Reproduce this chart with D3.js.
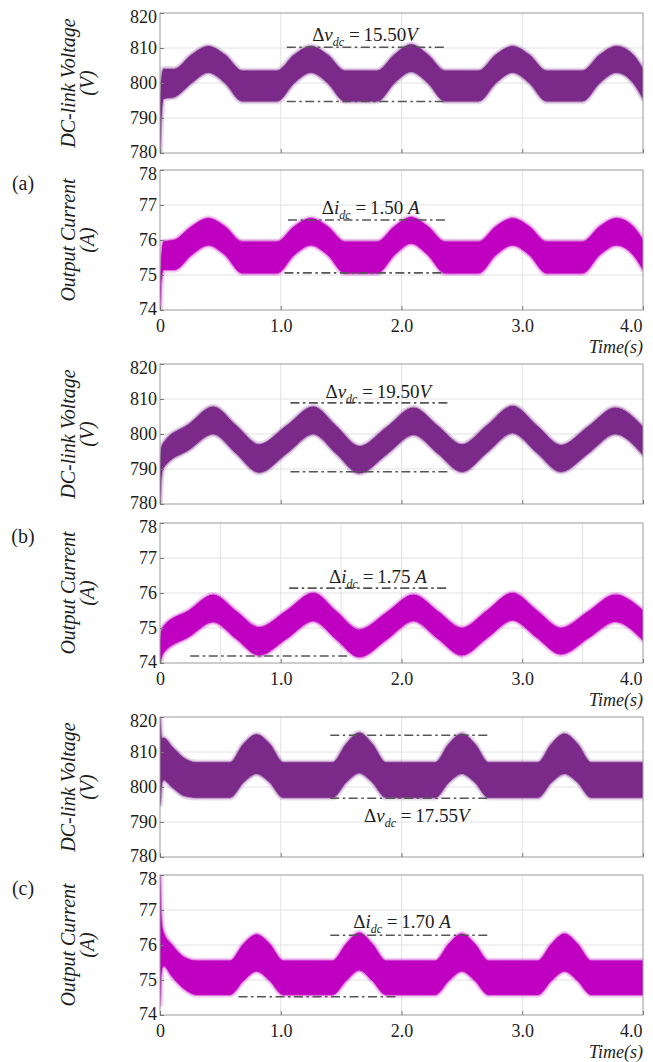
<!DOCTYPE html>
<html><head><meta charset="utf-8">
<script src="https://cdn.jsdelivr.net/npm/d3@7"></script>
<style>
html,body{margin:0;padding:0;background:#fff;}
svg{display:block;}
</style></head>
<body><svg id="chart" width="653" height="1062"></svg>
<script>
// ---------- tick data ----------
const timeTicks = [0, 1, 2, 3, 4];
const timeTickLabels = ["0", "1.0", "2.0", "3.0", "4.0"];
const voltageTicks = [780, 790, 800, 810, 820];
const currentTicks = [74, 75, 76, 77, 78];
const caseLabels = ["(a)", "(b)", "(c)"];

// ---------- case (a): band envelopes (lower / upper edge) ----------
const tA = [0, 0.012, 0.03, 0.12, 0.26, 0.4, 0.54, 0.68, 0.97, 1.11, 1.25, 1.39, 1.53, 1.8, 1.94, 2.08, 2.22, 2.36, 2.64, 2.78, 2.92, 3.06, 3.2, 3.5, 3.64, 3.78, 3.92, 4.0];
const aVoltLo = [780, 791, 795.5, 796, 800, 803, 800, 794.8, 794.8, 800, 803, 800, 794.8, 794.8, 800, 803.2, 800, 794.8, 794.8, 800, 803, 800, 794.8, 794.8, 800, 803, 800, 795.5];
const aVoltHi = [792, 801, 804, 804, 808, 810.5, 808, 803.5, 803.5, 808, 810.5, 808, 803.5, 803.5, 808, 811, 808, 803.5, 803.5, 808, 810.5, 808, 803.5, 803.5, 808, 810.5, 808, 804];
const aCurrLo = [74, 74.9, 75.15, 75.15, 75.57, 75.85, 75.57, 75.05, 75.05, 75.57, 75.85, 75.57, 75.05, 75.05, 75.57, 75.9, 75.57, 75.05, 75.05, 75.57, 75.85, 75.57, 75.05, 75.05, 75.57, 75.85, 75.57, 75.15];
const aCurrHi = [74.6, 75.5, 75.95, 76.0, 76.38, 76.62, 76.38, 75.95, 75.95, 76.38, 76.62, 76.38, 75.95, 75.95, 76.38, 76.65, 76.38, 75.95, 75.95, 76.38, 76.62, 76.38, 75.95, 75.95, 76.38, 76.62, 76.38, 76.0];

// ---------- case (b) ----------
const tB = [0, 0.012, 0.03, 0.24, 0.44, 0.63, 0.82, 1.05, 1.27, 1.46, 1.65, 1.88, 2.1, 2.3, 2.5, 2.71, 2.92, 3.12, 3.32, 3.55, 3.77, 4.0];
const bVoltLo = [780, 788, 790.5, 795.5, 800, 794.5, 789, 794.5, 800, 794.4, 788.8, 794.3, 799.8, 794.5, 789.2, 794.8, 800.3, 794.7, 789.2, 794.6, 800, 794];
const bVoltHi = [791, 796, 797.5, 802.8, 807.8, 802.4, 797, 802.4, 807.8, 802.2, 796.5, 802, 807.5, 802.3, 797, 802.5, 808, 802.4, 796.8, 802.2, 807.5, 802];
const bCurrLo = [74, 74.15, 74.3, 74.75, 75.17, 74.7, 74.22, 74.7, 75.2, 74.68, 74.17, 74.68, 75.2, 74.7, 74.22, 74.72, 75.22, 74.73, 74.25, 74.72, 75.18, 74.65];
const bCurrHi = [74.6, 74.9, 75.05, 75.5, 75.95, 75.48, 75.02, 75.5, 76.0, 75.47, 74.95, 75.45, 75.95, 75.48, 75.0, 75.5, 76.0, 75.5, 75.0, 75.48, 75.95, 75.5];

// ---------- case (c) ----------
const tC = [0, 0.006, 0.015, 0.03, 0.1, 0.2, 0.3, 0.58, 0.69, 0.8, 0.91, 1.02, 1.43, 1.54, 1.65, 1.76, 1.87, 2.28, 2.39, 2.5, 2.61, 2.72, 3.13, 3.24, 3.35, 3.46, 3.57, 4.0];
const cVoltLo = [795, 797, 801, 802, 800, 797.5, 797, 797, 801.3, 803.8, 801.3, 797, 797, 801.3, 804, 801.3, 797, 797, 801.3, 803.8, 801.3, 797, 797, 801.3, 803.8, 801.3, 797, 797];
const cVoltHi = [820, 816.5, 814, 814, 811.5, 808.2, 807, 807, 812.2, 815, 812.2, 807, 807, 812.2, 815.5, 812.2, 807, 807, 812.2, 815.2, 812.2, 807, 807, 812.2, 815.2, 812.2, 807, 807];
const cCurrLo = [74.3, 74.9, 75.3, 75.4, 75.1, 74.75, 74.58, 74.58, 74.98, 75.25, 74.98, 74.58, 74.58, 74.98, 75.28, 74.98, 74.58, 74.58, 74.98, 75.25, 74.98, 74.58, 74.58, 74.98, 75.25, 74.98, 74.58, 74.58];
const cCurrHi = [78, 77.2, 76.6, 76.35, 76.0, 75.65, 75.55, 75.55, 76.02, 76.3, 76.02, 75.55, 75.55, 76.02, 76.35, 76.02, 75.55, 75.55, 76.02, 76.32, 76.02, 75.55, 75.55, 76.02, 76.32, 76.02, 75.55, 75.55];

// ---------- ripple markers: [tStart, tEnd, level] ----------
const dashAV = [[1.05, 2.36, 810.2], [1.05, 2.36, 794.7]];
const dashAI = [[1.06, 2.38, 76.57], [1.03, 2.34, 75.06]];
const dashBV = [[1.08, 2.38, 808.9], [1.08, 2.38, 789.2]];
const dashBI = [[1.07, 2.37, 76.14], [0.25, 1.55, 74.2]];
const dashCV = [[1.41, 2.72, 814.8], [1.41, 2.72, 796.8]];
const dashCI = [[1.41, 2.72, 76.28], [0.65, 1.96, 74.52]];
const rippleValues = ["15.50", "1.50", "19.50", "1.75", "17.55", "1.70"];

// ---------- layout / style ----------
const serif = "'Liberation Serif','Times New Roman',Times,serif";
const X0 = 160, X1 = 643;
const panelTops = [13, 170, 364, 523, 717, 875];
const panelH = 140;
const voltColor = "#7b2a8a", currColor = "#c000c0";
const ink = "#1e1e1e";

const mk = (t, lo, hi) => t.map((tt, j) => ({t: tt, lo: lo[j], hi: hi[j]}));
const panels = [
  {kind: "V", rows: mk(tA, aVoltLo, aVoltHi), dash: dashAV, grid: 1, annoT: 1.26, annoDy: -6},
  {kind: "I", rows: mk(tA, aCurrLo, aCurrHi), dash: dashAI, grid: 1, annoT: 1.34, annoDy: -6, caseIdx: 0},
  {kind: "V", rows: mk(tB, bVoltLo, bVoltHi), dash: dashBV, grid: 1, annoT: 1.37, annoDy: -5},
  {kind: "I", rows: mk(tB, bCurrLo, bCurrHi), dash: dashBI, grid: 0.5, annoT: 1.40, annoDy: -5, caseIdx: 1},
  {kind: "V", rows: mk(tC, cVoltLo, cVoltHi), dash: dashCV, grid: 1, annoT: 1.69, annoDy: 24, annoBelow: true},
  {kind: "I", rows: mk(tC, cCurrLo, cCurrHi), dash: dashCI, grid: 1, annoT: 1.60, annoDy: -7, caseIdx: 2}
];

const svg = d3.select("#chart");
const x = d3.scaleLinear().domain([0, 4]).range([X0, X1]);

panels.forEach((p, i) => {
  const top = panelTops[i], bottom = top + panelH;
  const isV = p.kind === "V";
  const ticks = isV ? voltageTicks : currentTicks;
  const y = d3.scaleLinear().domain([ticks[0], ticks[ticks.length - 1]]).range([bottom, top]);
  const color = isV ? voltColor : currColor;
  const g = svg.append("g");

  svg.append("clipPath").attr("id", "clip" + i)
    .append("rect").attr("x", X0).attr("y", top).attr("width", X1 - X0).attr("height", panelH);

  // grid
  const xg = d3.range(p.grid, 4, p.grid).filter(v => v < 3.99);
  g.selectAll(null).data(xg).join("line")
    .attr("x1", d => x(d)).attr("x2", d => x(d)).attr("y1", top).attr("y2", bottom)
    .attr("stroke", "#e2e2e2").attr("stroke-width", 1);
  g.selectAll(null).data(ticks.slice(1, -1)).join("line")
    .attr("x1", X0).attr("x2", X1).attr("y1", d => y(d)).attr("y2", d => y(d))
    .attr("stroke", "#e2e2e2").attr("stroke-width", 1);

  // signal band (with soft fringe imitating the switching ripple spikes)
  const area = d3.area().x(d => x(d.t)).y0(d => y(d.lo)).y1(d => y(d.hi)).curve(d3.curveMonotoneX);
  const band = g.append("g").attr("clip-path", `url(#clip${i})`);
  band.append("path").datum(p.rows).attr("d", area).attr("fill", color)
    .attr("stroke", color).attr("stroke-opacity", 0.18).attr("stroke-width", 6)
    .attr("stroke-linejoin", "round");
  band.append("path").datum(p.rows).attr("d", area).attr("fill", color)
    .attr("stroke", color).attr("stroke-opacity", 0.45).attr("stroke-width", 2.4)
    .attr("stroke-linejoin", "round");

  // ripple markers
  g.selectAll(null).data(p.dash).join("line")
    .attr("x1", d => x(d[0])).attr("x2", d => x(d[1]))
    .attr("y1", d => y(d[2])).attr("y2", d => y(d[2]))
    .attr("stroke", "#555").attr("stroke-width", 1.6)
    .attr("stroke-dasharray", "9,3.5,2.5,3.5");

  // annotation
  const refLevel = p.annoBelow ? p.dash[1][2] : p.dash[0][2];
  const txt = g.append("text").attr("x", x(p.annoT)).attr("y", y(refLevel) + p.annoDy)
    .attr("font-family", serif).attr("font-size", 19).attr("fill", ink);
  txt.append("tspan").text("Δ");
  txt.append("tspan").attr("font-style", "italic").text(isV ? "v" : "i");
  txt.append("tspan").attr("font-style", "italic").attr("font-size", 12).attr("dy", 5).text("dc");
  txt.append("tspan").attr("dy", -5).text(" =\u2009" + rippleValues[i] + (isV ? "" : " "));
  txt.append("tspan").attr("font-style", "italic").text(isV ? "V" : "A");

  // frame
  g.append("rect").attr("x", X0).attr("y", top).attr("width", X1 - X0).attr("height", panelH)
    .attr("fill", "none").attr("stroke", "#9a9a9a").attr("stroke-width", 1);

  // y axis
  const ya = g.append("g").attr("transform", `translate(${X0},0)`)
    .call(d3.axisLeft(y).tickValues(ticks).tickFormat(d3.format("d")).tickSize(-4).tickPadding(3));
  ya.select(".domain").remove();
  ya.selectAll("line").attr("stroke", "#777");
  ya.selectAll("text").attr("font-family", serif).attr("font-size", 18).attr("fill", ink);
  ya.selectAll("text").filter(d => d === ticks[ticks.length - 1]).attr("y", 4);
  ya.selectAll("text").filter(d => d === ticks[0]).attr("y", -1);

  // x axis
  const xa = g.append("g").attr("transform", `translate(0,${bottom})`)
    .call(d3.axisBottom(x).tickValues(timeTicks)
      .tickFormat(isV ? () => "" : (d, k) => timeTickLabels[k]).tickSize(-4).tickPadding(9));
  xa.select(".domain").remove();
  xa.selectAll("line").attr("stroke", "#777");
  xa.selectAll("text").attr("font-family", serif).attr("font-size", 18).attr("fill", ink);
  xa.selectAll("text").filter(d => d === 4).attr("text-anchor", "end").attr("dx", -1);

  if (!isV) {
    g.append("text").attr("x", X1).attr("y", bottom + 43).attr("text-anchor", "end")
      .attr("font-family", serif).attr("font-style", "italic").attr("font-size", 18)
      .attr("fill", ink).text("Time(s)");
    g.append("text").attr("x", 23).attr("y", top + 20).attr("text-anchor", "middle")
      .attr("font-family", serif).attr("font-size", 20).attr("fill", ink)
      .text(caseLabels[p.caseIdx]);
  }

  // y title (two lines)
  const cy = (top + bottom) / 2;
  const lines = isV ? ["DC-link Voltage", "(V)"] : ["Output Current", "(A)"];
  [75, 94].forEach((bx, k) => {
    g.append("text").attr("transform", `translate(${bx},${cy}) rotate(-90)`)
      .attr("text-anchor", "middle").attr("font-family", serif).attr("font-style", "italic")
      .attr("font-size", 20).attr("fill", ink).text(lines[k]);
  });
});
</script>
</body></html>
